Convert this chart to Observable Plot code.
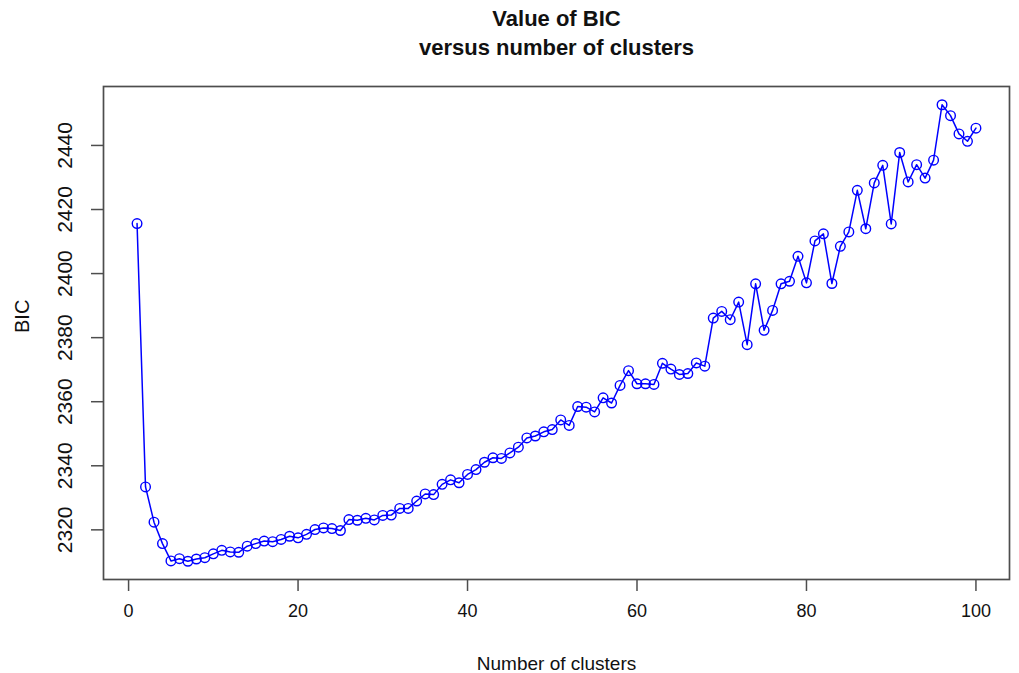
<!DOCTYPE html>
<html>
<head>
<meta charset="utf-8">
<script src="https://cdn.jsdelivr.net/npm/d3@7"></script>
<script src="https://cdn.jsdelivr.net/npm/@observablehq/plot@0.6"></script>
<style>
  html, body { margin: 0; padding: 0; background: #fff; }
  #chart svg { display: block; }
</style>
</head>
<body>
<div id="chart"></div>
<script>
// Number of clusters tried
const clusters = [
  1, 2, 3, 4, 5, 6, 7, 8, 9, 10,
  11, 12, 13, 14, 15, 16, 17, 18, 19, 20,
  21, 22, 23, 24, 25, 26, 27, 28, 29, 30,
  31, 32, 33, 34, 35, 36, 37, 38, 39, 40,
  41, 42, 43, 44, 45, 46, 47, 48, 49, 50,
  51, 52, 53, 54, 55, 56, 57, 58, 59, 60,
  61, 62, 63, 64, 65, 66, 67, 68, 69, 70,
  71, 72, 73, 74, 75, 76, 77, 78, 79, 80,
  81, 82, 83, 84, 85, 86, 87, 88, 89, 90,
  91, 92, 93, 94, 95, 96, 97, 98, 99, 100
];

// BIC for each number of clusters
const bic = [
  2415.6, 2333.4, 2322.4, 2315.7, 2310.3, 2311.0, 2310.2, 2310.9, 2311.3, 2312.5,
  2313.6, 2313.1, 2313.0, 2314.9, 2315.7, 2316.5, 2316.3, 2317.0, 2318.0, 2317.5,
  2318.6, 2320.1, 2320.6, 2320.4, 2319.8, 2323.2, 2323.0, 2323.6, 2323.1, 2324.5,
  2324.6, 2326.7, 2326.7, 2329.0, 2331.2, 2331.0, 2334.2, 2335.6, 2334.7, 2337.3,
  2338.8, 2341.1, 2342.5, 2342.3, 2344.0, 2345.8, 2348.7, 2349.3, 2350.6, 2351.3,
  2354.3, 2352.6, 2358.5, 2358.3, 2356.8, 2361.2, 2359.6, 2365.1, 2369.7, 2365.6,
  2365.6, 2365.4, 2372.0, 2370.2, 2368.5, 2368.8, 2372.1, 2371.1, 2386.1, 2388.2,
  2385.6, 2391.1, 2377.8, 2396.8, 2382.3, 2388.5, 2396.8, 2397.6, 2405.4, 2397.1,
  2410.2, 2412.4, 2396.9, 2408.5, 2413.0, 2426.0, 2414.0, 2428.3, 2433.8, 2415.5,
  2437.8, 2428.6, 2434.0, 2429.8, 2435.4, 2452.7, 2449.3, 2443.6, 2441.3, 2445.4
];

const xTicks = [0, 20, 40, 60, 80, 100];
const yTicks = [2320, 2340, 2360, 2380, 2400, 2420, 2440];

const titleLines = ["Value of BIC", "versus number of clusters"];
const xLabel = "Number of clusters";
const yLabel = "BIC";

const rows = clusters.map((k, i) => ({k, bic: bic[i]}));

// Pad each domain by 4% of the data range on both sides
const padDomain = (values) => {
  const [lo, hi] = d3.extent(values);
  const pad = (hi - lo) * 0.04;
  return [lo - pad, hi + pad];
};

const blue = "#0000ff";
const ink = "#111";
const axisGray = "#4d4d4d";

const chart = Plot.plot({
  width: 1019,
  height: 673,
  marginLeft: 103,
  marginRight: 10,
  marginTop: 86,
  marginBottom: 94,
  style: {
    fontFamily: "'Liberation Sans', Arial, Helvetica, sans-serif",
    background: "#fff",
    color: ink
  },
  x: {domain: padDomain(clusters)},
  y: {domain: padDomain(bic)},
  marks: [
    Plot.frame({stroke: axisGray, strokeWidth: 1.7}),
    Plot.axisX({
      ticks: xTicks,
      tickSize: 12,
      tickPadding: 13,
      tickFormat: d3.format("d"),
      fontSize: 18,
      stroke: axisGray,
      strokeWidth: 1.5,
      fill: ink,
      label: null
    }),
    Plot.axisY({
      ticks: yTicks,
      tickSize: 12,
      tickRotate: -90,
      tickPadding: 20,
      tickFormat: d3.format("d"),
      fontSize: 21,
      stroke: axisGray,
      strokeWidth: 1.5,
      fill: ink,
      label: null
    }),
    Plot.line(rows, {x: "k", y: "bic", stroke: blue, strokeWidth: 1.5}),
    Plot.dot(rows, {x: "k", y: "bic", r: 4.8, stroke: blue, strokeWidth: 1.4, fill: "none"}),
    // Two-line bold title above the frame
    Plot.text([titleLines[0]], {text: d => d, frameAnchor: "top", lineAnchor: "middle", dy: -68, fontSize: 22, fontWeight: "bold", fill: ink}),
    Plot.text([titleLines[1]], {text: d => d, frameAnchor: "top", lineAnchor: "middle", dy: -39, fontSize: 22, fontWeight: "bold", fill: ink}),
    // Axis titles
    Plot.text([xLabel], {text: d => d, frameAnchor: "bottom", lineAnchor: "middle", dy: 84, fontSize: 19, fill: ink}),
    Plot.text([yLabel], {text: d => d, frameAnchor: "left", lineAnchor: "middle", dx: -81, rotate: -90, fontSize: 20, fill: ink})
  ]
});

document.getElementById("chart").append(chart);
</script>
</body>
</html>
